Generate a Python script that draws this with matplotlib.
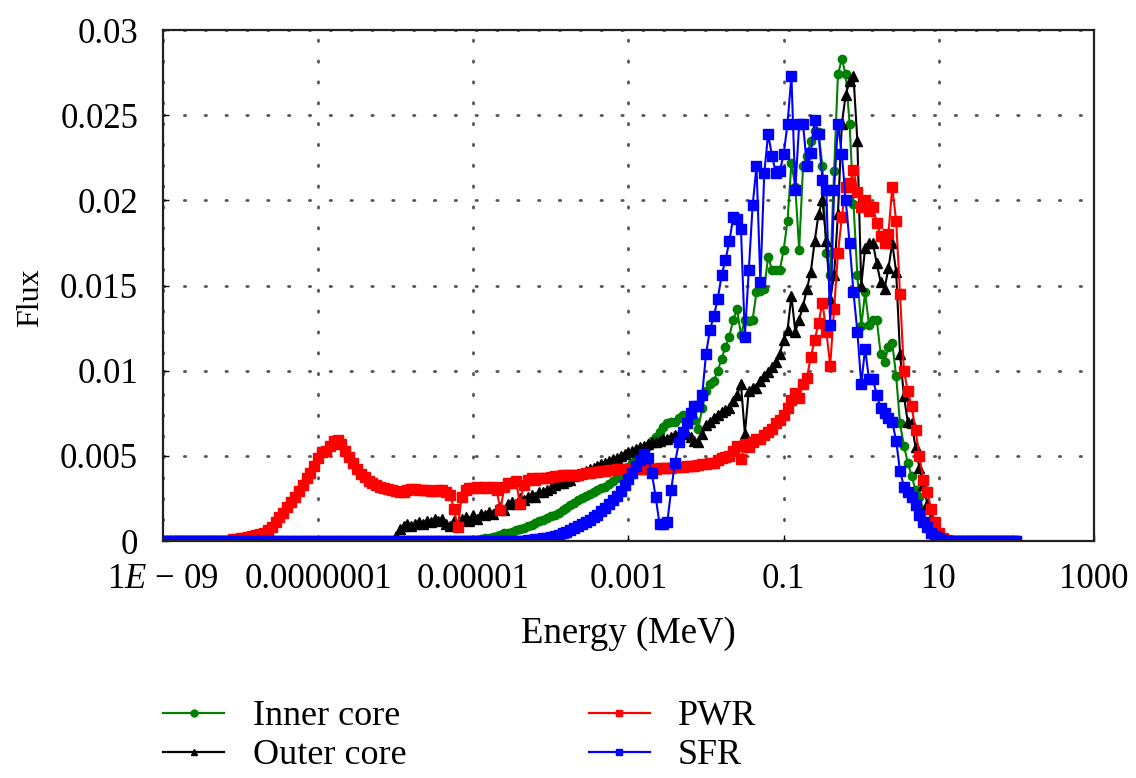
import numpy as np
import matplotlib
matplotlib.use("Agg")
import matplotlib.pyplot as plt
from matplotlib.lines import Line2D

plt.rcParams["font.family"] = ["Liberation Serif", "DejaVu Serif"]
plt.rcParams["mathtext.fontset"] = "custom"
plt.rcParams["mathtext.rm"] = "Liberation Serif"
plt.rcParams["mathtext.it"] = "Liberation Serif:italic"

# Equal-lethargy energy groups, 20 per decade, 1e-9 .. 1e2 MeV
energy_mev = 10.0 ** np.linspace(-9, 2, 221)

# Group fluxes, in units of 1e-3 (one row per decade)
inner_core = [
    0, 0, 0, 0, 0, 0, 0, 0, 0, 0, 0, 0, 0, 0, 0, 0, 0, 0, 0, 0,
    0, 0, 0, 0, 0, 0, 0, 0, 0, 0, 0, 0, 0, 0, 0, 0, 0, 0, 0, 0,
    0, 0, 0, 0, 0, 0, 0, 0, 0, 0, 0, 0, 0, 0, 0, 0, 0, 0, 0, 0,
    0, 0, 0, 0, 0, 0, 0, 0, 0, 0, 0, 0, 0, 0, 0, 0, 0, 0, 0, 0,
    0.05, 0.08, 0.1, 0.15, 0.2, 0.25, 0.3, 0.38, 0.45, 0.5, 0.55, 0.62, 0.7, 0.78, 0.86, 0.95, 1.05, 1.15, 1.25, 1.35,
    1.45, 1.55, 1.65, 1.8, 1.95, 2.1, 2.25, 2.4, 2.55, 2.65, 2.75, 2.85, 3.0, 3.1, 3.2, 3.35, 3.5, 3.7, 3.9, 4.1,
    4.35, 4.6, 4.85, 5.1, 5.35, 5.6, 5.85, 6.1, 6.4, 6.7, 6.9, 7.0, 7.0, 7.2, 7.4, 7.4, 7.4, 7.1, 6.6, 7.8,
    8.8, 9.2, 9.4, 10.0, 10.7, 11.4, 12.0, 13.0, 13.6, 12.1, 13.0, 12.9, 13.0, 14.6, 14.7, 14.8, 16.7, 15.9, 15.9, 15.9,
    17.1, 18.8, 22.2, 20.8, 17.1, 22.0, 22.6, 23.5, 24.1, 24.0, 22.0, 16.9, 15.6, 21.7, 27.4, 28.3, 27.4, 24.5, 19.8, 15.6,
    12.6, 14.6, 12.7, 13.0, 13.0, 11.0, 10.5, 11.4, 11.6, 9.7, 6.9, 5.6, 4.6, 3.8, 3.0, 2.6, 1.8, 1.1, 0.6, 0.3,
    0.15, 0.05, 0, 0, 0, 0, 0, 0, 0, 0, 0, 0, 0, 0, 0, 0, 0, 0, 0, 0,
    0,
]

outer_core = [
    0, 0, 0, 0, 0, 0, 0, 0, 0, 0, 0, 0, 0, 0, 0, 0, 0, 0, 0, 0,
    0, 0, 0, 0, 0, 0, 0, 0, 0, 0, 0, 0, 0, 0, 0, 0, 0, 0, 0, 0,
    0, 0, 0, 0, 0, 0, 0, 0, 0, 0, 0, 0, 0, 0, 0, 0, 0, 0, 0, 0,
    0.3, 0.7, 0.9, 1.0, 0.9, 1.0, 1.1, 1.0, 1.2, 1.1, 1.3, 1.2, 1.3, 1.0, 0.9, 1.2, 0.9, 1.3, 1.4, 1.2,
    1.5, 1.3, 1.6, 1.5, 1.7, 1.6, 1.9, 2.0, 1.8, 2.2, 2.3, 2.2, 2.5, 2.4, 2.6, 2.7, 2.6, 2.9, 2.9, 3.0,
    3.1, 3.3, 3.4, 3.4, 3.5, 3.6, 3.8, 3.9, 4.0, 4.1, 4.2, 4.3, 4.4, 4.5, 4.6, 4.7, 4.8, 4.9, 5.0, 5.1,
    5.2, 5.3, 5.4, 5.5, 5.6, 5.7, 5.8, 5.8, 5.9, 6.0, 6.0, 6.1, 6.2, 6.3, 6.4, 6.3, 6.1, 5.9, 5.8, 6.3,
    6.8, 7.0, 7.2, 7.4, 7.6, 7.7, 7.8, 8.2, 8.6, 9.2, 6.3, 8.8, 9.0, 9.0, 9.4, 9.7, 9.9, 10.2, 10.5, 11.0,
    11.8, 12.4, 14.4, 12.3, 13.0, 13.8, 14.8, 15.8, 17.6, 19.2, 20.0, 17.6, 14.2, 15.6, 19.2, 24.5, 26.2, 27.0, 27.3, 23.5,
    15.0, 17.2, 17.5, 17.5, 16.3, 15.2, 14.8, 16.0, 17.5, 15.8, 11.0, 8.5, 7.0, 6.9, 5.5, 4.3, 3.3, 2.2, 1.3, 0.6,
    0.25, 0.1, 0, 0, 0, 0, 0, 0, 0, 0, 0, 0, 0, 0, 0, 0, 0, 0, 0, 0,
    0,
]

pwr = [
    0, 0, 0, 0, 0, 0, 0, 0, 0, 0, 0, 0, 0, 0, 0, 0, 0, 0, 0.1, 0.1,
    0.15, 0.2, 0.25, 0.3, 0.35, 0.4, 0.5, 0.65, 0.85, 1.1, 1.4, 1.65, 2.0, 2.3, 2.6, 2.95, 3.3, 3.7, 4.0, 4.4,
    4.9, 5.2, 5.3, 5.55, 5.9, 5.95, 5.7, 5.3, 4.95, 4.6, 4.2, 3.95, 3.75, 3.55, 3.4, 3.3, 3.2, 3.1, 3.05, 3.0,
    2.95, 2.9, 2.9, 3.0, 3.05, 3.05, 3.0, 3.0, 3.0, 2.95, 2.95, 3.0, 3.0, 2.9, 2.7, 1.9, 0.8, 2.6, 3.0, 3.1,
    3.1, 3.2, 3.1, 3.2, 3.1, 3.2, 3.0, 1.8, 3.2, 3.4, 3.4, 3.5, 2.2, 3.3, 3.6, 3.7, 3.6, 3.7, 3.7, 3.7,
    3.75, 3.8, 3.8, 3.85, 3.85, 3.9, 3.9, 3.9, 3.95, 4.0, 4.0, 4.05, 4.05, 4.1, 4.1, 4.15, 4.15, 4.2, 4.2, 4.2,
    4.2, 4.25, 4.25, 4.2, 4.25, 4.25, 4.2, 4.25, 4.3, 4.3, 4.3, 4.3, 4.35, 4.35, 4.35, 4.4, 4.4, 4.4, 4.45, 4.5,
    4.55, 4.6, 4.6, 4.75, 4.85, 4.95, 5.0, 5.3, 5.6, 4.8, 5.7, 5.5, 5.8, 6.0, 6.0, 6.2, 6.4, 6.6, 6.9, 7.1,
    7.4, 7.8, 8.3, 8.7, 8.4, 9.2, 9.6, 10.8, 11.8, 12.8, 14.0, 12.3, 10.3, 13.6, 16.9, 19.0, 20.8, 21.0, 21.8, 20.5,
    19.6, 20.0, 19.4, 19.6, 18.7, 17.9, 17.5, 18.0, 20.8, 18.8, 14.5, 10.0, 8.8, 7.9, 6.5, 5.0, 3.6, 2.9, 1.9, 1.1,
    0.5, 0.2, 0.05, 0, 0, 0, 0, 0, 0, 0, 0, 0, 0, 0, 0, 0, 0, 0, 0, 0,
    0,
]

sfr = [
    0, 0, 0, 0, 0, 0, 0, 0, 0, 0, 0, 0, 0, 0, 0, 0, 0, 0, 0, 0,
    0, 0, 0, 0, 0, 0, 0, 0, 0, 0, 0, 0, 0, 0, 0, 0, 0, 0, 0, 0,
    0, 0, 0, 0, 0, 0, 0, 0, 0, 0, 0, 0, 0, 0, 0, 0, 0, 0, 0, 0,
    0, 0, 0, 0, 0, 0, 0, 0, 0, 0, 0, 0, 0, 0, 0, 0, 0, 0, 0, 0,
    0, 0, 0, 0, 0, 0, 0, 0, 0, 0, 0, 0, 0, 0, 0.05, 0.08, 0.1, 0.13, 0.17, 0.2,
    0.25, 0.3, 0.38, 0.45, 0.55, 0.65, 0.75, 0.88, 1.0, 1.12, 1.25, 1.4, 1.55, 1.75, 1.95, 2.15, 2.4, 2.65, 2.95, 3.3,
    3.65, 4.0, 4.4, 4.75, 5.1, 4.9, 4.0, 2.6, 1.0, 1.0, 1.1, 3.0, 4.6, 5.8, 6.4, 6.9, 7.5, 7.9, 7.9, 8.6,
    11.0, 12.4, 13.2, 14.2, 15.6, 16.5, 17.6, 19.0, 18.9, 18.3, 12.0, 15.9, 19.7, 22.0, 15.2, 21.6, 23.9, 22.6, 21.6, 21.7,
    22.7, 24.5, 27.3, 20.6, 24.5, 24.5, 22.0, 22.8, 24.7, 23.9, 21.2, 20.6, 12.7, 20.6, 24.5, 22.7, 20.0, 17.5, 14.6, 12.3,
    9.2, 11.3, 9.5, 9.5, 8.6, 7.8, 7.5, 7.2, 7.0, 5.9, 4.1, 3.2, 2.9, 2.6, 2.1, 1.5, 1.1, 0.8, 0.5, 0.3,
    0.15, 0.05, 0, 0, 0, 0, 0, 0, 0, 0, 0, 0, 0, 0, 0, 0, 0, 0, 0, 0,
    0,
]

series_names = ["Inner core", "Outer core", "PWR", "SFR"]
series_values = [inner_core, outer_core, pwr, sfr]
series_colors = ["#008000", "#000000", "#ff0000", "#0000ff"]
series_markers = ["o", "^", "s", "s"]
series_msize = [6, 7.5, 6.5, 7]

x_ticks = [1e-9, 1e-7, 1e-5, 1e-3, 1e-1, 10, 1000]
x_tick_labels = [r"$1E\,-\,09$", "0.0000001", "0.00001", "0.001", "0.1", "10", "1000"]
y_ticks = [0, 0.005, 0.01, 0.015, 0.02, 0.025, 0.03]
y_tick_labels = ["0", "0.005", "0.01", "0.015", "0.02", "0.025", "0.03"]

fig = plt.figure(figsize=(11.36, 7.78), dpi=100)
ax = fig.add_axes([0.1435, 0.3046, 0.8195, 0.6568])

handles = []
for name, vals, col, mk, ms in zip(series_names, series_values, series_colors,
                                   series_markers, series_msize):
    flux = np.asarray(vals) * 1e-3
    ax.plot(energy_mev, flux, color=col, lw=1.5, marker=mk, ms=ms,
            mec=col, mfc=col, zorder=3)
    handles.append(Line2D([], [], color=col, lw=1.6, marker=mk, ms=5,
                          mec=col, mfc=col))

ax.set_xscale("log")
ax.set_xlim(1e-9, 1000)
ax.set_ylim(0, 0.03)
ax.set_xticks(x_ticks)
ax.set_xticklabels(x_tick_labels)
ax.minorticks_off()
ax.set_yticks(y_ticks)
ax.set_yticklabels(y_tick_labels)
ax.tick_params(axis="both", labelsize=25, direction="in", length=4,
               width=1.0, colors="black")
ax.tick_params(axis="x", pad=16)
ax.tick_params(axis="y", pad=18)

ax.grid(True, color="#555555", linestyle=(0, (0.5, 7)), linewidth=2.0,
        dash_capstyle="round")
ax.set_axisbelow(True)
for sp in ax.spines.values():
    sp.set_linewidth(1.6)
    sp.set_color("#222222")
    sp.set_zorder(4)

fig.text(0.553, 0.186, "Energy (MeV)", ha="center", va="center", fontsize=26.5)
fig.text(0.027, 0.618, "Flux", ha="center", va="center", rotation=90,
         fontsize=23)

fig.legend(handles, series_names, ncol=2, loc="upper left",
           bbox_to_anchor=(0.1435, 0.1), frameon=False, fontsize=26,
           handlelength=1.7, handletextpad=0.78, columnspacing=5.05,
           labelspacing=0.15, borderpad=0.0, borderaxespad=0.0)

fig.savefig("out.png", dpi=100)
